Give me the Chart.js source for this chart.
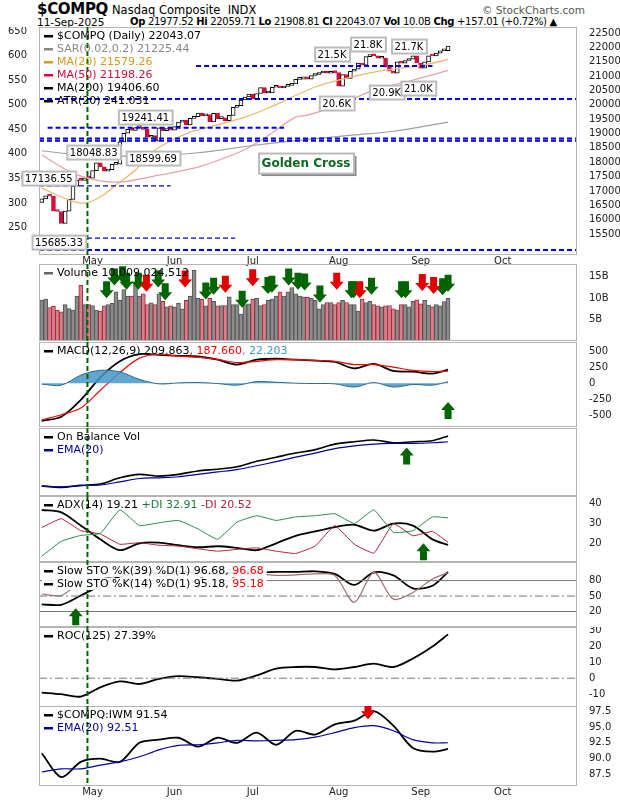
<!DOCTYPE html>
<html>
<head>
<meta charset="utf-8">
<script src="https://cdn.jsdelivr.net/npm/chart.js@4.4.1/dist/chart.umd.min.js"></script>
<style>
  body { margin: 0; background: #fff; font-family: "DejaVu Sans", Verdana, sans-serif; }
  #wrap { position: relative; width: 620px; height: 800px; overflow: hidden; }
  canvas { position: absolute; left: 0; }
  .t { position: absolute; white-space: nowrap; color: #000; font-size: 11px; }
</style>
</head>
<body>
<div id="wrap">
  <div class="t" style="left:37px;top:0px;font-size:15px;font-weight:bold;letter-spacing:-0.3px;">$COMPQ</div>
  <div class="t" style="left:112px;top:3px;font-size:11.5px;">Nasdaq Composite&nbsp; INDX</div>
  <div class="t" style="left:482px;top:4px;font-size:10.5px;color:#555;">© StockCharts.com</div>
  <div class="t" style="left:37px;top:16px;font-size:10.5px;">11-Sep-2025</div>
  <div class="t" style="left:130px;top:16px;font-size:10px;letter-spacing:-0.3px;"><b>Op</b> 21977.52 <b>Hi</b> 22059.71 <b>Lo</b> 21908.81 <b>Cl</b> 22043.07 <b>Vol</b> 10.0B <b>Chg</b> +157.01 (+0.72%) ▲</div>
  <canvas id="cMain" style="top:27px"></canvas>
  <canvas id="cVol" style="top:264px"></canvas>
  <canvas id="cMacd" style="top:342px"></canvas>
  <canvas id="cObv" style="top:428px"></canvas>
  <canvas id="cAdx" style="top:496px"></canvas>
  <canvas id="cSto" style="top:562px"></canvas>
  <canvas id="cRoc" style="top:627px"></canvas>
  <canvas id="cRat" style="top:706px"></canvas>
</div>
<script>
// daily closes, 11-Apr-2025 .. 11-Sep-2025 (index 0 = 11-Apr)
const closes = [
  16724, 16831, 16823, 16307, 16286, 15870, 16300, 16708, 17166, 17382, 17366, 17461, 17446,
  17710, 17978, 17844, 17690, 17738, 17928, 17929, 18708, 19010, 19146, 19112, 19211, 19215, 19143, 18872, 18925, 18737, 19199, 19100, 19175, 19114,
  19243, 19399, 19460, 19298, 19530, 19591, 19715, 19615, 19662, 19407, 19701, 19521, 19546, 19447, 19631, 19913, 19973, 20168, 20273, 20370,
  20202, 20393, 20601, 20412, 20418, 20611, 20630, 20586, 20640, 20677, 20730, 20885, 20896, 20974, 20892, 21020, 21057, 21108, 21179, 21098, 21130, 21122,
  20650, 21053, 20916, 21169, 21242, 21450, 21385, 21681, 21713, 21710, 21623, 21629, 21315, 21172, 21100, 21496, 21449, 21544, 21590, 21705, 21456,
  21280, 21498, 21708, 21700, 21799, 21879, 21886, 22043
];
const firstOpen = 16600;
// volume in billions
const volume = [
  9.5, 9.8, 7.8, 8.1, 7.2, 6.8, 8.5, 7.6, 7.2, 10.5, 13.0, 8.5, 8.5,
  8.3, 7.2, 7.0, 8.2, 8.5, 8.8, 11.5, 9.5, 12.0, 10.5, 10.5, 13.2, 10.5, 11.0, 8.5, 8.9, 8.5, 11.0, 9.3, 8.0, 8.2,
  8.0, 8.8, 7.5, 9.5, 10.5, 16.5, 10.0, 9.8, 8.2, 10.0, 9.3, 8.2, 8.3, 8.3, 10.3, 8.5, 8.5, 6.3, 8.5, 8.7,
  9.8, 10.0, 8.3, 8.5, 9.5, 9.8, 10.5, 11.5, 10.5, 11.5, 12.5, 11.0, 10.5, 10.3, 10.2, 10.0, 9.5, 7.5, 8.5, 9.0, 9.0, 8.5,
  9.0, 9.5, 9.0, 8.5, 8.5, 7.0, 9.8, 9.0, 9.3, 8.5, 8.2, 8.0, 8.2, 8.3, 7.5, 7.2, 8.5, 8.5, 8.0, 9.3, 9.6,
  8.7, 9.5, 8.4, 8.0, 8.5, 8.2, 9.2, 10.0
];

const monthIdx = [13, 34, 54, 76, 97, 118];
const monthNames = ["May", "Jun", "Jul", "Aug", "Sep", "Oct"];
const vlineIdx = 11.7;

// moving averages
const ma20Idx = [0, 7, 11, 15, 19, 24, 28, 32, 38, 45, 52, 58, 70, 78, 85, 92, 98, 104];
const ma20 = [17100, 16680, 16580, 16790, 17210, 17730, 18320, 18670, 19050, 19300, 19570, 19890, 20620, 20930, 21140, 21280, 21390, 21579];
const ma50Idx = [0, 8, 14, 20, 30, 40, 50, 55, 60, 65, 68, 76, 85, 95, 104];
const ma50 = [18250, 17620, 17380, 17310, 17550, 17830, 18320, 18670, 19120, 19570, 19640, 19990, 20510, 20860, 21198];
const ma200Idx = [0, 10, 25, 40, 55, 67, 80, 90, 104];
const ma200 = [18400, 18250, 18220, 18330, 18600, 18780, 18950, 19080, 19400];

// indicators sampled weekly
const wk = [0, 5, 10, 15, 20, 25, 30, 35, 40, 45, 50, 55, 60, 65, 70, 75, 80, 85, 90, 95, 100, 104];
const macd = [-585, -520, -260, 90, 340, 450, 440, 425, 415, 365, 290, 365, 380, 365, 350, 330, 230, 300, 190, 180, 150, 210];
const macdSig = [-570, -490, -385, -110, 165, 390, 450, 420, 405, 370, 320, 340, 365, 365, 355, 340, 290, 290, 250, 200, 180, 188];
const obv = [17, 12, 18, 22, 40, 50, 45, 50, 60, 65, 72, 88, 100, 112, 122, 138, 145, 150, 142, 145, 148, 162];
const obvEma = [15, 14, 17, 19, 28, 38, 40, 43, 50, 57, 64, 75, 87, 100, 112, 125, 133, 138, 140, 140, 142, 145];
const adx = [36.9, 35.7, 29, 22, 16.5, 20, 20.3, 19, 18, 18.5, 17.7, 16.5, 20, 23.8, 26, 28.2, 29.4, 26.4, 30, 29, 22, 19.2];
const pdi = [13.4, 21, 24, 25, 37, 29, 30.4, 31.6, 27.3, 22, 30.8, 34, 31.6, 33.4, 34, 35, 30, 37, 25.5, 26.4, 33.4, 32.9];
const mdi = [28, 32.5, 26.4, 24.7, 19.5, 20.3, 19, 18.6, 17.2, 16, 16.9, 17.7, 16, 14.8, 18.6, 29, 19.5, 15, 30, 23.8, 26, 20.5];
const sto39 = [34, 33, 51, 70, 88, 94, 95, 97, 96, 92, 96, 96, 97, 97, 98, 93, 71.5, 96, 90, 65, 70, 96.7];
const sto14 = [54, 51, 77, 83, 90, 92, 88, 93, 90, 67, 90, 93, 90, 91, 93, 90, 38, 96, 44, 57, 83, 95.2];
const roc = [-9, -10, -11.5, -5.7, -2, -3.6, -0.4, 1.3, 0.6, -0.4, -1.5, 1.7, 6, 7, 7, 5.5, 7, 9.1, 7, 12.3, 19.8, 27.4];
const ratio = [90.85, 87.1, 89.5, 90.0, 89.5, 92.5, 93.0, 93.3, 91.9, 93.3, 92.5, 94.1, 92.2, 94.4, 93.8, 95.4, 96.0, 97.5, 95.2, 91.7, 91.1, 91.54];
const ratioEma = [87.9, 88.4, 88.4, 89.0, 89.5, 90.3, 91.4, 92.1, 92.2, 92.5, 92.9, 92.8, 92.9, 93.0, 93.4, 94.1, 94.9, 95.2, 94.4, 93.0, 92.5, 92.51];

// signal arrows (day index)
const volUpGreen = [16.6, 18.6, 20.7, 21.7, 24.7, 29.8, 31.6, 39, 42, 44, 51.3, 57.9, 58.9, 63.2, 65.6, 67.3, 71.2, 79.3, 79.8, 84.4, 92.1, 93.1, 102.6, 104];
const volRed = [26.8, 36.7, 47, 54, 75.5, 81.4, 97.4, 100.3];

const FONT = "DejaVu Sans";
const pts = (xs, ys) => xs.map((x, i) => ({ x: x, y: ys[i] }));
const extras = {};

const panelPlugin = {
  id: "panel",
  afterDatasetsDraw(chart) {
    const ex = extras[chart.canvas.id] || {};
    const { ctx, chartArea: a, scales } = chart;
    const xs = scales.x, ys = scales.y;
    ctx.save();
    (ex.hlines || []).forEach(h => {
      const y = ys.getPixelForValue(h.y);
      const x0 = h.from != null ? xs.getPixelForValue(h.from) : a.left;
      const x1 = h.to != null ? xs.getPixelForValue(h.to) : a.right;
      ctx.strokeStyle = h.color; ctx.lineWidth = h.width || 1;
      ctx.setLineDash(h.dash || []);
      ctx.beginPath(); ctx.moveTo(x0, y); ctx.lineTo(x1, y); ctx.stroke();
    });
    ctx.setLineDash([]);
    // frame
    ctx.strokeStyle = "#b4b4b4"; ctx.lineWidth = 1;
    ctx.strokeRect(a.left + 0.5, a.top + 0.5, a.right - a.left - 1, a.bottom - a.top - 1);
    // green dashed date line
    const vx = xs.getPixelForValue(vlineIdx);
    ctx.strokeStyle = "#006400"; ctx.lineWidth = 2; ctx.setLineDash([5, 3]);
    ctx.beginPath(); ctx.moveTo(vx, a.top); ctx.lineTo(vx, a.bottom); ctx.stroke();
    ctx.setLineDash([]);
    // label boxes
    ctx.textBaseline = "middle";
    (ex.boxes || []).forEach(b => {
      const x = b.px != null ? b.px : xs.getPixelForValue(b.x);
      const y = ys.getPixelForValue(b.y);
      ctx.font = (b.bold ? "bold 12px " : "10px ") + FONT;
      const w = ctx.measureText(b.text).width + 6, h = b.bold ? 20 : 14;
      const left = b.align === "left" ? x : x - w / 2;
      if (b.bold) { ctx.fillStyle = "#888"; ctx.fillRect(left + 3, y - h / 2 + 3, w, h); }
      ctx.fillStyle = "#fff"; ctx.fillRect(left, y - h / 2, w, h);
      ctx.strokeStyle = "#bbb"; ctx.strokeRect(left + 0.5, y - h / 2 + 0.5, w, h);
      ctx.fillStyle = b.color || "#000"; ctx.textAlign = "left";
      ctx.fillText(b.text, left + 3, y + 1);
    });
    // arrows
    (ex.arrows || []).forEach(ar => {
      const x = xs.getPixelForValue(ar.x);
      const tip = ys.getPixelForValue(ar.y) + (ar.off || 0);
      const s = ar.dir === "down" ? -1 : 1;
      ctx.fillStyle = ar.color;
      ctx.beginPath();
      ctx.moveTo(x, tip);
      ctx.lineTo(x - 7, tip + s * 8);
      ctx.lineTo(x - 3.5, tip + s * 8);
      ctx.lineTo(x - 3.5, tip + s * 17);
      ctx.lineTo(x + 3.5, tip + s * 17);
      ctx.lineTo(x + 3.5, tip + s * 8);
      ctx.lineTo(x + 7, tip + s * 8);
      ctx.closePath(); ctx.fill();
    });
    // legend lines
    let ly = a.top + 9;
    (ex.legend || []).forEach(l => {
      let x = a.left + 5;
      ctx.font = "11px " + FONT; ctx.textAlign = "left";
      let total = 14;
      l.parts.forEach(p => total += ctx.measureText(p[0]).width);
      if (l.bg) { ctx.fillStyle = "rgba(255,255,255,0.9)"; ctx.fillRect(x - 2, ly - 6, total + 4, 12); }
      ctx.fillStyle = l.dash || l.parts[0][1];
      ctx.fillRect(x, ly - 1, 9, 2.5);
      x += 13;
      l.parts.forEach(p => {
        ctx.fillStyle = p[1]; ctx.fillText(p[0], x, ly);
        x += ctx.measureText(p[0]).width;
      });
      ly += 13;
    });
    ctx.restore();
  }
};
Chart.register(panelPlugin);

function noPad(ax) { ax.paddingTop = 0; ax.paddingBottom = 0; }

function fixedTicks(vals, fmt) {
  return {
    afterBuildTicks: ax => { ax.ticks = vals.map(v => ({ value: v })); },
    afterFit: ax => { ax.width = 43; noPad(ax); },
    ticks: { font: { family: FONT, size: 10 }, color: "#222", padding: 4, callback: fmt || (v => v) },
    grid: { display: false }, border: { display: false }
  };
}

function panel(id, height, datasets, y, opts) {
  opts = opts || {};
  const c = document.getElementById(id);
  c.width = 620; c.height = height;
  c.style.width = "620px"; c.style.height = height + "px";
  extras[id] = opts.extras || {};
  const showX = !!opts.showX;
  const scales = {
    x: {
      type: "linear", min: -0.7, max: 137, offset: false,
      display: showX,
      afterBuildTicks: ax => { ax.ticks = monthIdx.map(v => ({ value: v })); },
      afterFit: ax => { ax.height = showX ? 12 : 0; ax.paddingLeft = 0; ax.paddingRight = 0; },
      ticks: { font: { family: FONT, size: 10 }, color: "#222", padding: 0, maxRotation: 0,
        callback: v => monthNames[monthIdx.indexOf(v)] },
      grid: { display: false, drawTicks: false, offset: false }, border: { display: false }
    },
    y: Object.assign({ position: "right" }, y)
  };
  if (opts.left) scales.yl = opts.left;
  return new Chart(c, {
    data: { datasets: datasets },
    options: {
      responsive: false, maintainAspectRatio: false, animation: false, devicePixelRatio: 1,
      layout: { autoPadding: false, padding: { left: opts.left ? 0 : 39, right: 0, top: 0, bottom: 0 } },
      plugins: { legend: { display: false }, tooltip: { enabled: false } },
      scales: scales
    }
  });
}

function line(data, color, width, extra) {
  return Object.assign({ type: "line", data: data, borderColor: color, borderWidth: width || 1.5,
    pointRadius: 0, tension: 0.3, fill: false }, extra || {});
}

const opens = closes.map((c, i) => i ? closes[i - 1] : firstOpen);
const upDay = closes.map((c, i) => c >= opens[i]);

// price panel
panel("cMain", 240, [
  line(pts(ma200Idx, ma200), "#a0a0a0", 1.2),
  line(pts(ma50Idx, ma50), "#e8a0a8", 1.2),
  line(pts(ma20Idx, ma20), "#ecb870", 1.3),
  { type: "bar", data: closes.map((c, i) => ({ x: i, y: [opens[i], c] })),
    backgroundColor: upDay.map(u => u ? "#ffffff" : "#d0103a"),
    borderColor: upDay.map(u => u ? "#000000" : "#d0103a"),
    borderWidth: 1, barThickness: 4, minBarLength: 2, borderSkipped: false }
], Object.assign(fixedTicks([15500, 16000, 16500, 17000, 17500, 18000, 18500, 19000, 19500, 20000, 20500, 21000, 21500, 22000, 22500]),
  { min: 14770, max: 22710 }), {
  showX: true,
  left: { position: "left", min: 194, max: 658,
    afterBuildTicks: ax => { ax.ticks = [250, 300, 350, 400, 450, 500, 550, 600, 650].map(v => ({ value: v })); },
    afterFit: ax => { ax.width = 39; noPad(ax); },
    ticks: { font: { family: FONT, size: 10 }, color: "#222", padding: 4 },
    grid: { display: false }, border: { display: false } },
  extras: {
    hlines: [
      { y: 20200, color: "#0000e0", width: 2, dash: [5, 3] },
      { y: 21350, from: 39.5, to: 100, color: "#0000e0", width: 2, dash: [5, 3] },
      { y: 19200, from: 1.5, to: 62, color: "#0000e0", width: 2, dash: [5, 3] },
      { y: 18830, color: "#0000e0", width: 2, dash: [5, 3] },
      { y: 18750, color: "#0000e0", width: 2, dash: [5, 3] },
      { y: 17180, from: -0.7, to: 33, color: "#0000e0", width: 1.2, dash: [5, 3] },
      { y: 15360, from: -0.7, to: 49.5, color: "#0000e0", width: 1.2, dash: [5, 3] },
      { y: 14940, color: "#0000e0", width: 2, dash: [5, 3] }
    ],
    boxes: [
      { x: 74.3, y: 21769, text: "21.5K" },
      { x: 83.5, y: 22117, text: "21.8K" },
      { x: 94, y: 22047, text: "21.7K" },
      { x: 75.5, y: 20062, text: "20.6K" },
      { x: 88.3, y: 20445, text: "20.9K" },
      { x: 96.4, y: 20584, text: "21.0K" },
      { x: 26.5, y: 19574, text: "19241.41" },
      { x: 13.3, y: 18355, text: "18048.83" },
      { x: 28.5, y: 18146, text: "18599.69" },
      { px: 22, y: 17450, text: "17136.55", align: "left" },
      { x: 4.4, y: 15220, text: "15685.33" },
      { x: 55.5, y: 17972, text: "Golden Cross", bold: true, align: "left", color: "#0a6a1a" }
    ],
    legend: [
      { parts: [["$COMPQ (Daily) 22043.07", "#000"]] },
      { parts: [["SAR(0.02,0.2) 21225.44", "#888"]], dash: "#888" },
      { parts: [["MA(20) 21579.26", "#d49a20"]] },
      { parts: [["MA(50) 21198.26", "#d0103a"]] },
      { parts: [["MA(200) 19406.60", "#000"]] },
      { parts: [["ATR(20) 241.031", "#000"]] }
    ]
  }
});

// volume
const volArrows = volUpGreen.map(x => ({ x: x, y: volume[Math.min(104, Math.round(x))] + 1.5, dir: "down", color: "#006400" }))
  .concat(volRed.map(x => ({ x: x, y: volume[Math.round(x)] + 3, dir: "down", color: "#e00000" })));
panel("cVol", 77, [
  { type: "bar", data: volume.map((v, i) => ({ x: i, y: v })),
    backgroundColor: upDay.map(u => u ? "#8c8c8c" : "#d8808a"),
    borderColor: upDay.map(u => u ? "#555" : "#a8283c"),
    borderWidth: 1, barThickness: 4, borderSkipped: false }
], Object.assign(fixedTicks([5, 10, 15], v => v + "B"), { min: 0, max: 18 }), {
  extras: { arrows: volArrows, legend: [{ parts: [["Volume 10,009,024,512", "#000"]], dash: "#666" }] }
});

// MACD
const hist = macd.map((m, i) => m - macdSig[i]);
panel("cMacd", 85, [
  line(pts(wk, hist), "#2a6a9a", 1, { fill: "origin", backgroundColor: "rgba(70,150,200,0.85)", tension: 0.35 }),
  line(pts(wk, macdSig), "#ff0000", 1.2),
  line(pts(wk, macd), "#000", 1.8)
], Object.assign(fixedTicks([-500, -250, 0, 250, 500]), { min: -680, max: 640 }), {
  extras: {
    arrows: [{ x: 104, y: -200, dir: "up", color: "#006400", off: 6 }],
    legend: [{ parts: [["MACD(12,26,9) 209.863", "#000"], [", 187.660", "#ff0000"], [", 22.203", "#3a9ad0"]] }]
  }
});

// OBV
panel("cObv", 68, [
  line(pts(wk, obvEma), "#0000a0", 1.2),
  line(pts(wk, obv), "#000", 1.6)
], Object.assign(fixedTicks([]), { min: -13, max: 185 }), {
  extras: {
    arrows: [{ x: 93.4, y: 140, dir: "up", color: "#006400", off: 4 }],
    legend: [{ parts: [["On Balance Vol", "#000"]] }, { parts: [["EMA(20)", "#0000a0"]] }]
  }
});

// ADX
panel("cAdx", 66, [
  line(pts(wk, pdi), "#2a8a4a", 1, { tension: 0.1 }),
  line(pts(wk, mdi), "#b0203a", 1, { tension: 0.1 }),
  line(pts(wk, adx), "#000", 1.8)
], Object.assign(fixedTicks([20, 30, 40]), { min: 10.5, max: 44 }), {
  extras: {
    arrows: [{ x: 97.7, y: 21, dir: "up", color: "#006400", off: 2 }],
    legend: [{ parts: [["ADX(14) 19.21 ", "#000"], ["+DI 32.91 ", "#1a7a3a"], ["-DI 20.52", "#b0203a"]] }]
  }
});

// Slow STO
panel("cSto", 65, [
  line(pts(wk, sto14), "#a07070", 1.2),
  line(pts(wk, sto39), "#000", 1.8)
], Object.assign(fixedTicks([20, 50, 80]), { min: -10, max: 116 }), {
  extras: {
    hlines: [
      { y: 80, color: "#777", width: 1 },
      { y: 20, color: "#777", width: 1 },
      { y: 50, color: "#777", width: 1, dash: [8, 3, 2, 3] }
    ],
    arrows: [{ x: 8.7, y: 30, dir: "up", color: "#006400", off: 2 }],
    legend: [
      { parts: [["Slow STO %K(39) %D(1) 96.68, ", "#000"], ["96.68", "#ff0000"]], bg: true },
      { parts: [["Slow STO %K(14) %D(1) 95.18, ", "#000"], ["95.18", "#ff0000"]], bg: true }
    ]
  }
});

// ROC
panel("cRoc", 80, [
  line(pts(wk, roc), "#000", 1.8)
], Object.assign(fixedTicks([-10, 0, 10, 20, 30]), { min: -18, max: 32 }), {
  extras: {
    hlines: [{ y: 0, color: "#777", width: 1, dash: [8, 3, 2, 3] }],
    legend: [{ parts: [["ROC(125) 27.39%", "#000"]] }]
  }
});

// $COMPQ:IWM
panel("cRat", 92, [
  line(pts(wk, ratioEma), "#0000a0", 1.2),
  line(pts(wk, ratio), "#000", 1.8)
], Object.assign(fixedTicks([87.5, 90, 92.5, 95, 97.5], v => v.toFixed(1)), { min: 85.7, max: 98.3 }), {
  showX: true,
  extras: {
    arrows: [{ x: 83.5, y: 96.2, dir: "down", color: "#e00000", off: 0 }],
    legend: [{ parts: [["$COMPQ:IWM 91.54", "#000"]] }, { parts: [["EMA(20) 92.51", "#0000a0"]] }]
  }
});
</script>
</body>
</html>
